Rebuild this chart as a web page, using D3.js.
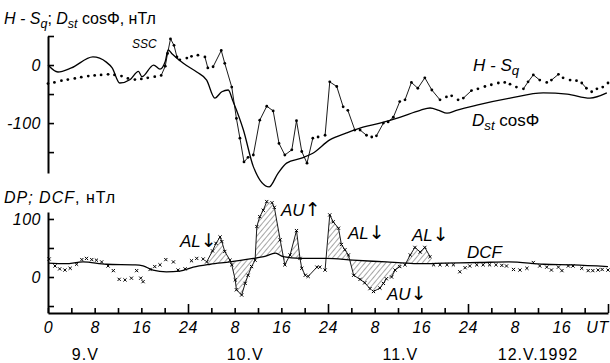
<!DOCTYPE html>
<html>
<head>
<meta charset="utf-8">
<script src="https://cdn.jsdelivr.net/npm/d3@7"></script>
<style>
body { margin: 0; background: #fff; }
text { font-family: "Liberation Sans", Arial, sans-serif; fill: #000; }
</style>
</head>
<body>
<svg width="610" height="363"></svg>
<script>
var svg = d3.select("svg");

//////////// DATA ////////////

// hours from 9.V 00 UT
// H - Sq (dots), nT
var hsqT = [0, 1.1, 2.3, 3.4, 4.6, 5.7, 6.9, 8, 9.1, 10.3, 11.4, 12.6, 13.7, 14.9, 16, 17.1, 18.3, 19.4, 20.1, 20.5,
    21, 21.6, 22.1, 22.6, 23.8, 24.6, 25.7, 26.9, 27.4, 28.3, 29.7, 30.3, 31.5, 32.3, 32.9, 33.6, 34.3, 35.2, 36.3, 37.5,
    38.6, 39.6, 40.6, 41.8, 42.6, 43.5, 44.4, 45.4, 46.3, 47.5, 48.3, 49.5, 50.6, 51.4, 52.6, 53.5, 54.6, 55.5, 56.3, 57.5,
    58.3, 59.2, 60.3, 61.2, 62.3, 63.4, 64.6, 65.8, 67.2, 68.3, 69.2, 70.3, 71.2, 72.6, 73.7, 74.9, 76, 77.2, 78.3, 79.2,
    80.3, 81.5, 82.3, 83.2, 84.3, 85.5, 86.3, 87.5, 88.3, 89.5, 90.6, 91.5, 92.3, 93.2, 94.1, 95.1, 96];
var hsqV = [-32, -30, -27, -25, -23, -21, -19, -18, -17, -16, -17, -19, -23, -25, -24, -22, -20, -18, -2, 20,
    45, 34, 14, 9, 12, 15, 17, 14, -5, -3, 25, 3, -38, -92, -126, -167, -159, -155, -95, -71,
    -79, -135, -155, -146, -96, -149, -169, -126, -124, -121, -29, -37, -72, -78, -112, -112, -121, -124, -122, -100,
    -98, -90, -63, -60, -30, -40, -22, -43, -60, -55, -53, -60, -57, -44, -41, -37, -34, -31, -30, -33,
    -38, -41, -29, -17, -26, -30, -26, -16, -22, -26, -27, -31, -40, -46, -41, -38, -31];

// Dst cos(Phi), nT
var dstT = [0, 1.7, 4, 7.7, 10, 11, 12.3, 14.1, 15.5, 16.1, 18.1, 19.2, 20.1, 20.6, 21.2, 23.2, 25.5, 27.2, 28.6, 29.8,
    30.9, 31.7, 33.5, 35.2, 37.9, 39.4, 40.9, 43.6, 45.4, 48.3, 51.2, 54, 56.9, 60.3, 63.8, 65.5, 67, 68.4, 70, 73.5,
    79.2, 84.9, 89, 92.9, 95.8];
var dstV = [0, -12, -5, 14, 5, -5, -31, -25, -11, -20, 0, -7, 6, 26, 20, 3, -12, -26, -57, -46,
    -43, -62, -112, -175, -210, -187, -169, -160, -152, -129, -117, -107, -100, -90, -78, -74, -78, -83, -78, -69,
    -57, -48, -50, -57, -48];

// DP (crosses), nT
var dpT = [0.2, 1.2, 2, 2.9, 3.8, 4.9, 5.8, 6.6, 7.5, 8.3, 9.2, 10.3, 11.2, 12.2, 13.2, 14.3, 15.2, 15.9, 16.3, 17.5,
    18.3, 19.2, 20.2, 21.5, 22.3, 23.5, 24.6, 25.5, 26.6, 27.2, 28.2, 28.8, 29.5, 29.8, 30.3, 31.2, 31.5, 32.1, 32.3, 33.2,
    33.8, 34.3, 34.9, 35.5, 35.8, 36.3, 36.9, 37.5, 38.4, 38.8, 39.8, 40.6, 41.5, 42.6, 43.2, 43.5, 44.1, 44.6, 46.1, 46.6,
    47.5, 48.3, 48.9, 49.8, 50.3, 50.9, 51.5, 52.4, 53.5, 54.3, 55.2, 55.8, 56.9, 57.5, 58, 58.9, 59.5, 60.3, 61.2, 62.1,
    62.9, 63.8, 64.6, 65.5, 66.1, 67.2, 68.4, 69.5, 70.6, 71.5, 72.3, 73.5, 74.6, 75.7, 76.8, 77.8, 78.6, 79.8, 80.9, 82.1,
    83.2, 84.3, 85.5, 86.3, 87.5, 88.1, 89.2, 90, 91.5, 92.6, 93.4, 94.3, 95, 96];
var dpV = [31, 19, 14, 12, 15, 22, 30, 32, 30, 29, 26, 19, 11, -4, -5, -2, 11, -2, -8, 13,
    18, 21, 30, 26, 12, 14, 28, 32, 31, 26, 45, 58, 69, 61, 44, 29, 21, -5, -22, -31,
    -11, 3, 18, 29, 87, 104, 115, 130, 128, 120, 64, 21, 38, 80, 32, 15, 3, 1, 17, 17,
    12, 107, 95, 84, 56, 47, 38, 3, -4, -10, -20, -25, -19, -11, -3, 0, 12, 18, 21, 38,
    51, 43, 51, 35, 21, 21, 21, 21, 9, 16, 19, 21, 21, 21, 21, 20, 19, 13, 12, 15,
    25, 19, 17, 12, 17, 11, 19, 19, 15, 11, 11, 12, 13, 12];

// DCF (solid), nT
var dcfT = [0, 3, 6, 10, 15, 16.3, 18, 20.3, 22.6, 24.9, 27.8, 31.2, 35.2, 37, 39, 40.3, 43.2, 47.8, 52.3, 58,
    61.5, 64, 68, 74, 79, 85, 90, 96];
var dcfV = [24, 23, 26, 22, 21, 19, 12, 9, 10, 17, 22, 26, 32, 35, 41, 35, 32, 32, 29, 26,
    24, 23, 24, 25, 26, 22, 21, 18];

// hatched disturbance intervals (hours)
var hatchSpans = [[27.2, 40.6], [40.9, 43.4], [48, 66]];

var xTicks = d3.range(0, 97, 4);
var topTicks = [50, 0, -50, -100, -150];
var botTicks = [100, 50, 0, -50];
var dayLabels = ["9.V", "10.V", "11.V", "12.V.1992"];
var dayPos = [6.4, 33.8, 60.4, 84];

//////////// SCALES ////////////

var x = d3.scaleLinear().domain([0, 96]).range([48, 608]);
var yTop = d3.scaleLinear().domain([-186, 50]).range([173, 36]);
var yBot = d3.scaleLinear().domain([-62, 112]).range([313, 212]);

function interp(ts, vs, t) {
    var i = d3.bisectLeft(ts, t);
    if (i <= 0) return vs[0];
    if (i >= ts.length) return vs[vs.length - 1];
    var f = (t - ts[i - 1]) / (ts[i] - ts[i - 1]);
    return vs[i - 1] + f * (vs[i] - vs[i - 1]);
}

function styleAxis(g) {
    g.select(".domain").attr("stroke", "#000").attr("stroke-width", 2);
    g.selectAll(".tick line").attr("stroke", "#000").attr("stroke-width", 1.6);
    g.selectAll(".tick text")
        .style("font-family", "'Liberation Sans', Arial, sans-serif")
        .style("font-size", "16px").style("font-style", "italic")
        .style("letter-spacing", "0.5px");
}

// hatch pattern
var defs = svg.append("defs");
defs.append("pattern")
    .attr("id", "hatch")
    .attr("patternUnits", "userSpaceOnUse")
    .attr("width", 4).attr("height", 4)
    .attr("patternTransform", "rotate(40)")
    .append("line")
    .attr("x1", 0).attr("y1", 0).attr("x2", 0).attr("y2", 4)
    .attr("stroke", "#000").attr("stroke-width", 0.7);

// text with italic / subscript / arrow parts: [text, flags]
function richText(x0, y0, size, parts) {
    var t = svg.append("text").attr("x", x0).attr("y", y0).style("font-size", size + "px");
    var shift = 0;
    parts.forEach(function (p) {
        var s = t.append("tspan").text(p[0]);
        var f = p[1] || "";
        if (f.indexOf("i") >= 0) s.style("font-style", "italic");
        if (f.indexOf("a") >= 0) s.style("font-family", "'DejaVu Sans'").style("font-size", (size + 2) + "px");
        var want = f.indexOf("s") >= 0 ? 4 : 0;
        if (want != shift) { s.attr("dy", want - shift); shift = want; }
        if (want) s.style("font-size", (size * 0.78) + "px");
    });
    return t;
}

//////////// TOP PANEL ////////////

var topG = svg.append("g");

topG.append("g")
    .attr("transform", "translate(48,0)")
    .call(d3.axisLeft(yTop).tickValues(topTicks).tickSizeInner(-6).tickSizeOuter(0).tickPadding(7)
        .tickFormat(function (d) { return d == 0 || d == -100 ? String(d) : ""; }))
    .call(styleAxis);

topG.append("path")
    .datum(dstT.map(function (t, i) { return [t, dstV[i]]; }))
    .attr("fill", "none").attr("stroke", "#000").attr("stroke-width", 1.3)
    .attr("d", d3.line().curve(d3.curveMonotoneX)
        .x(function (d) { return x(d[0]); })
        .y(function (d) { return yTop(d[1]); }));

// H-Sq: thin connectors only where the jump is visible
var hsqSeg = [];
for (var i = 0; i < hsqT.length - 1; i++) {
    if (Math.abs(yTop(hsqV[i + 1]) - yTop(hsqV[i])) > 4.5) hsqSeg.push(i);
}
topG.append("g").selectAll("line")
    .data(hsqSeg).enter().append("line")
    .attr("x1", function (i) { return x(hsqT[i]); })
    .attr("y1", function (i) { return yTop(hsqV[i]); })
    .attr("x2", function (i) { return x(hsqT[i + 1]); })
    .attr("y2", function (i) { return yTop(hsqV[i + 1]); })
    .attr("stroke", "#000").attr("stroke-width", 0.9);

topG.append("g").selectAll("circle")
    .data(hsqT).enter().append("circle")
    .attr("cx", function (d) { return x(d); })
    .attr("cy", function (d, i) { return yTop(hsqV[i]); })
    .attr("r", 1.4).attr("fill", "#000");

richText(4, 24, 16, [["H - S", "i"], ["q", "is"], ["; "], ["D", "i"], ["st", "is"], [" cos\u03A6,  \u043D\u0422\u043B"]]);
svg.append("text").attr("x", 132).attr("y", 48).style("font-size", "12px").style("font-style", "italic").text("SSC");
richText(473, 71, 17, [["H - S", "i"], ["q", "is"]]);
richText(472, 126, 17, [["D", "i"], ["st", "is"], [" cos\u03A6"]]);

//////////// BOTTOM PANEL ////////////

var botG = svg.append("g");

botG.append("g")
    .attr("transform", "translate(48,0)")
    .call(d3.axisLeft(yBot).tickValues(botTicks).tickSizeInner(-6).tickSizeOuter(0).tickPadding(7)
        .tickFormat(function (d) { return d == 0 || d == 100 ? String(d) : ""; }))
    .call(styleAxis);

var xAxis = botG.append("g")
    .attr("transform", "translate(0,313)")
    .call(d3.axisBottom(x).tickValues(xTicks).tickSizeInner(-5).tickSizeOuter(0).tickPadding(9)
        .tickFormat(function (h) {
            if (h % 8) return "";
            if (h == 96) return "UT";
            if (h == 0) return "0";
            return h % 24 == 0 ? "24" : String(h % 24);
        }))
    .call(styleAxis);
xAxis.selectAll(".tick line").attr("y2", function (h) { return h % 24 == 0 && h > 0 ? -9 : -5; });
xAxis.selectAll(".tick text").attr("dx", function (h) { return h == 96 ? -11 : 0; });

// hatched areas between DP and DCF
hatchSpans.forEach(function (s) {
    var ts = [s[0]].concat(dpT.filter(function (t) { return t > s[0] && t < s[1]; }),
        dcfT.filter(function (t) { return t > s[0] && t < s[1]; }), [s[1]]).sort(d3.ascending);
    botG.append("path")
        .datum(ts)
        .attr("fill", "url(#hatch)").attr("stroke", "none")
        .attr("d", d3.area()
            .x(function (t) { return x(t); })
            .y0(function (t) { return yBot(interp(dcfT, dcfV, t)); })
            .y1(function (t) { return yBot(interp(dpT, dpV, t)); }));
});

botG.append("path")
    .datum(dcfT.map(function (t, i) { return [t, dcfV[i]]; }))
    .attr("fill", "none").attr("stroke", "#000").attr("stroke-width", 1.3)
    .attr("d", d3.line().curve(d3.curveMonotoneX)
        .x(function (d) { return x(d[0]); })
        .y(function (d) { return yBot(d[1]); }));

// DP connectors inside the disturbed interval
var dpSeg = [];
for (var j = 0; j < dpT.length - 1; j++) {
    if (dpT[j] >= 27 && dpT[j + 1] <= 66 && Math.abs(yBot(dpV[j + 1]) - yBot(dpV[j])) > 3) dpSeg.push(j);
}
botG.append("g").selectAll("line")
    .data(dpSeg).enter().append("line")
    .attr("x1", function (i) { return x(dpT[i]); })
    .attr("y1", function (i) { return yBot(dpV[i]); })
    .attr("x2", function (i) { return x(dpT[i + 1]); })
    .attr("y2", function (i) { return yBot(dpV[i + 1]); })
    .attr("stroke", "#000").attr("stroke-width", 0.9);

botG.append("g").selectAll("path")
    .data(dpT).enter().append("path")
    .attr("transform", function (d, i) { return "translate(" + x(d) + "," + yBot(dpV[i]) + ")"; })
    .attr("d", "M-1.6,-1.6L1.6,1.6M-1.6,1.6L1.6,-1.6")
    .attr("stroke", "#000").attr("stroke-width", 1);

richText(4, 203, 16, [["DP; DCF", "i"], [", \u043D\u0422\u043B"]]).style("letter-spacing", "1px");

// event labels: [name, arrow, x, y]
var labels = [["AL", "\u2193\uFE0E", 180, 247], ["AU", "\u2191\uFE0E", 281, 216], ["AL", "\u2193\uFE0E", 348, 239],
    ["AL", "\u2193\uFE0E", 412, 241], ["AU", "\u2193\uFE0E", 387, 300], ["DCF", "", 467, 258]];
labels.forEach(function (d) {
    richText(d[2], d[3], 17, [[d[0], "i"], [d[1], "a"]]);
});

svg.append("g").selectAll("text.day")
    .data(dayLabels).enter().append("text")
    .attr("x", function (d, i) { return x(dayPos[i]); })
    .attr("y", 360)
    .attr("text-anchor", "middle")
    .style("font-size", "16px")
    .style("letter-spacing", "1px")
    .text(function (d) { return d; });
</script>
</body>
</html>
